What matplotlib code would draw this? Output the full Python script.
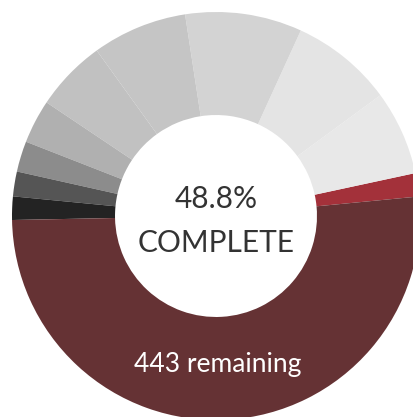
import numpy as np
import matplotlib.pyplot as plt

# completed groups (counterclockwise from the red one), then remaining
labels = ['g1', 'g2', 'g3', 'g4', 'g5', 'g6', 'g7', 'g8', 'g9', 'g10', 'remaining']
counts = [16, 58, 70, 80, 65, 49, 30, 21, 17, 16, 443]
colors = ['#a3313a', '#e8e8e8', '#e4e4e4', '#d3d3d3', '#c5c5c5', '#c1c1c1',
          '#b0b0b0', '#8c8c8c', '#555555', '#232323', '#653234']

total = sum(counts)
remaining = counts[-1]
pct_done = 100 * (total - remaining) / total

plt.rcParams['font.family'] = ['Lato', 'DejaVu Sans']

fig = plt.figure(figsize=(4.13, 4.17), dpi=100)
ax = fig.add_axes([0, 0, 1, 1])

# centre at (216, 216) px, outer radius 204 px
cx, cy, R = 216, 216, 204
ax.pie(counts, colors=colors, startangle=5.5, counterclock=True,
       radius=1.0, wedgeprops=dict(width=0.505, linewidth=0))

ax.set_xlim(-cx / R, (413 - cx) / R)
ax.set_ylim((cy - 417) / R, cy / R)
ax.set_aspect('equal')
ax.axis('off')

ax.text(0, 0.085, '%.1f%%' % pct_done, ha='center', va='center',
        fontsize=21.5, color='#333333', fontweight='normal')
ax.text(0, -0.13, 'COMPLETE', ha='center', va='center',
        fontsize=21.5, color='#333333', fontweight='normal')
ax.text(0.01, -0.73, '%d remaining' % remaining, ha='center', va='center',
        fontsize=19, color='white', fontweight='normal')

fig.savefig('out.png', dpi=100)
